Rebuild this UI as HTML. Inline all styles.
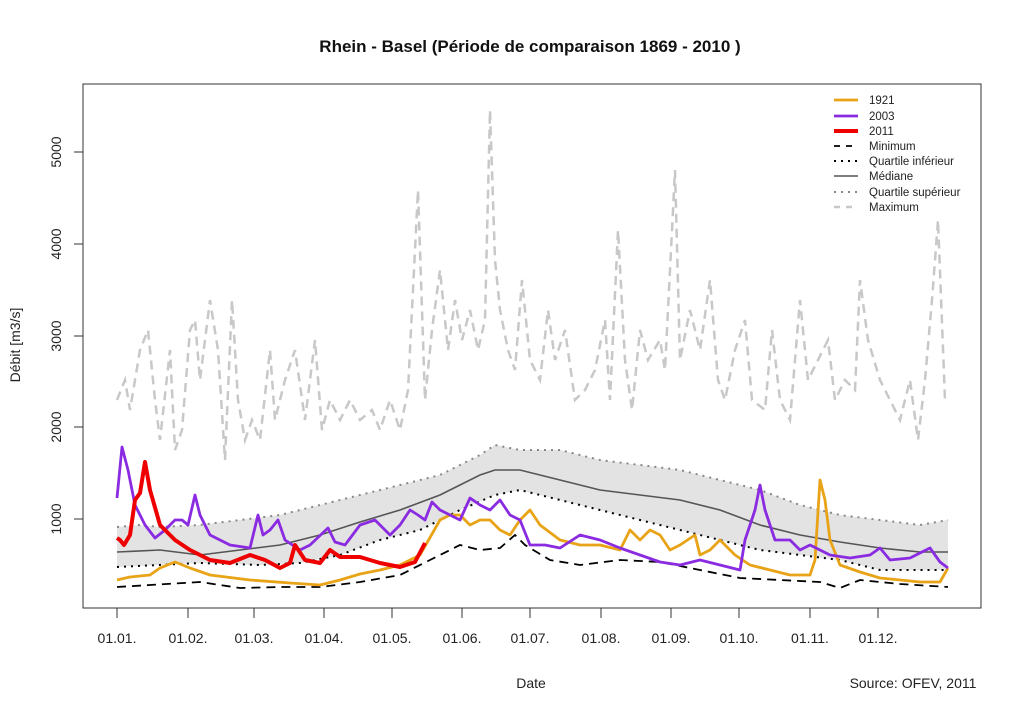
<!DOCTYPE html>
<html><head><meta charset="utf-8"><style>
html,body{margin:0;padding:0;background:#fff;}
svg{display:block;font-family:"Liberation Sans",Arial,sans-serif;}
</style></head><body>
<svg width="1024" height="712" viewBox="0 0 1024 712" xmlns="http://www.w3.org/2000/svg">
<rect width="1024" height="712" fill="#fff"/>
<text x="530" y="52" font-size="17" font-weight="bold" text-anchor="middle" fill="#111">Rhein - Basel (Période de comparaison 1869 - 2010 )</text>
<!-- gray band -->
<polygon fill="#e3e3e3" points="117,527 140,525 160,527 200,525 240,520 280,515 320,505 360,495 400,485 440,475 480,455 495,445 520,450 560,450 600,460 640,465 680,470 720,480 760,490 800,505 840,515 880,520 920,525 948,520 948,570 880,570 840,560 800,555 760,550 720,540 680,530 640,520 600,510 560,500 520,490 495,495 460,510 420,530 380,540 340,555 300,563 260,565 200,563 117,567"/>
<!-- maximum -->
<polyline fill="none" stroke="#c8c8c8" stroke-width="2.5" stroke-dasharray="9,6" points="117,400 125,380 130,410 140,350 148,330 155,400 160,440 170,350 175,450 182,430 190,330 195,320 200,380 210,300 218,350 225,460 232,300 238,400 245,440 252,420 260,440 270,350 275,420 285,380 295,350 305,420 315,340 322,430 330,400 340,420 350,400 360,420 372,410 380,430 390,400 400,430 408,390 418,190 425,400 432,330 440,270 448,350 455,300 462,340 470,310 478,350 485,320 490,110 495,260 500,310 508,350 515,370 522,280 530,360 540,380 548,310 555,360 565,330 575,400 585,390 595,370 605,320 610,400 618,230 625,360 632,410 640,330 648,360 660,340 665,370 675,170 680,360 690,310 700,350 710,280 718,380 725,400 735,350 745,320 752,400 765,410 772,330 780,400 790,420 800,300 808,380 818,360 828,340 835,400 845,380 855,390 860,280 868,340 880,380 890,400 900,420 910,380 918,440 925,380 932,300 938,220 945,400"/>
<!-- quartile sup -->
<polyline fill="none" stroke="#888" stroke-width="2" stroke-dasharray="2,5" points="117,527 140,525 160,527 200,525 240,520 280,515 320,505 360,495 400,485 440,475 480,455 495,445 520,450 560,450 600,460 640,465 680,470 720,480 760,490 800,505 840,515 880,520 920,525 948,520"/>
<!-- median -->
<polyline fill="none" stroke="#555" stroke-width="1.6" points="117,552 160,550 200,555 240,550 280,545 320,535 360,522 400,510 440,495 480,475 495,470 520,470 560,480 600,490 640,495 680,500 720,510 760,525 800,535 840,542 880,548 920,552 948,552"/>
<!-- quartile inf -->
<polyline fill="none" stroke="#000" stroke-width="2" stroke-dasharray="2,5" points="117,567 200,563 260,565 300,563 340,555 380,540 420,530 460,510 495,495 520,490 560,500 600,510 640,520 680,530 720,540 760,550 800,555 840,560 880,570 948,570"/>
<!-- minimum -->
<polyline fill="none" stroke="#000" stroke-width="1.8" stroke-dasharray="9,6" points="117,587 150,585 200,582 240,588 280,587 320,587 360,582 400,575 430,560 460,545 480,550 500,548 515,535 525,545 550,560 580,565 620,560 660,562 700,570 740,578 780,580 820,582 840,588 860,580 900,584 948,587"/>
<!-- 1921 -->
<polyline fill="none" stroke="#e8a317" stroke-width="2.8" stroke-linejoin="round" points="117,580 130,577 150,575 160,568 175,562 190,568 210,575 250,580 290,583 320,585 340,580 360,574 380,570 400,565 420,555 440,520 450,515 460,515 470,525 480,520 490,520 500,530 510,535 520,520 530,510 540,525 560,540 580,545 600,545 620,550 630,530 640,540 650,530 660,535 670,550 680,545 695,535 700,555 710,550 720,540 735,555 750,565 770,570 790,575 810,575 815,560 820,480 825,500 830,540 840,565 860,572 880,578 920,582 940,582 948,568"/>
<!-- 2003 -->
<polyline fill="none" stroke="#8a2be2" stroke-width="2.8" stroke-linejoin="round" points="117,498 122,447 128,470 135,505 145,525 155,538 165,530 175,520 182,520 188,525 195,495 200,515 210,535 230,545 250,548 258,515 263,535 270,530 278,520 285,540 300,550 310,545 328,528 335,542 345,545 360,525 375,520 390,535 400,525 410,510 418,515 425,520 432,502 440,510 450,515 460,520 470,498 480,505 490,510 500,500 510,515 520,520 530,545 545,545 560,548 580,535 600,540 620,548 640,555 660,562 680,565 700,560 720,565 740,570 745,540 755,510 760,485 765,510 775,540 790,540 800,550 810,545 820,550 830,555 850,558 870,555 880,548 890,560 910,558 930,548 940,562 948,568"/>
<!-- 2011 -->
<polyline fill="none" stroke="#e00" stroke-width="4" stroke-linejoin="round" points="117,538 120,540 124,545 130,535 135,500 140,493 145,462 150,490 160,525 175,540 190,550 210,560 230,563 250,555 265,560 280,568 290,563 295,545 305,560 320,563 330,550 340,557 360,557 380,563 400,567 415,562 425,543"/>
<!-- frame -->
<rect x="83" y="84" width="898" height="524" fill="none" stroke="#333" stroke-width="1"/>
<!-- y axis -->
<g stroke="#333" stroke-width="1">
<line x1="83" y1="519" x2="74" y2="519"/><line x1="83" y1="427" x2="74" y2="427"/><line x1="83" y1="336" x2="74" y2="336"/><line x1="83" y1="244" x2="74" y2="244"/><line x1="83" y1="152" x2="74" y2="152"/>
</g>
<g font-size="14" fill="#222" text-anchor="middle">
<text transform="translate(61,519) rotate(-90)">1000</text>
<text transform="translate(61,427) rotate(-90)">2000</text>
<text transform="translate(61,336) rotate(-90)">3000</text>
<text transform="translate(61,244) rotate(-90)">4000</text>
<text transform="translate(61,152) rotate(-90)">5000</text>
<text transform="translate(20,345) rotate(-90)" font-size="14">Débit [m3/s]</text>
</g>
<!-- x axis -->
<g stroke="#333" stroke-width="1">
<line x1="117" y1="608" x2="117" y2="618"/><line x1="188" y1="608" x2="188" y2="618"/><line x1="254" y1="608" x2="254" y2="618"/><line x1="324" y1="608" x2="324" y2="618"/><line x1="392" y1="608" x2="392" y2="618"/><line x1="462" y1="608" x2="462" y2="618"/><line x1="530" y1="608" x2="530" y2="618"/><line x1="601" y1="608" x2="601" y2="618"/><line x1="671" y1="608" x2="671" y2="618"/><line x1="739" y1="608" x2="739" y2="618"/><line x1="810" y1="608" x2="810" y2="618"/><line x1="878" y1="608" x2="878" y2="618"/>
</g>
<g font-size="14" fill="#222" text-anchor="middle">
<text x="117" y="643">01.01.</text><text x="188" y="643">01.02.</text><text x="254" y="643">01.03.</text><text x="324" y="643">01.04.</text><text x="392" y="643">01.05.</text><text x="462" y="643">01.06.</text><text x="530" y="643">01.07.</text><text x="601" y="643">01.08.</text><text x="671" y="643">01.09.</text><text x="739" y="643">01.10.</text><text x="810" y="643">01.11.</text><text x="878" y="643">01.12.</text>
<text x="531" y="688">Date</text>
<text x="913" y="688">Source: OFEV, 2011</text>
</g>
<!-- legend -->
<g font-size="11.5" fill="#222">
<line x1="834" y1="100" x2="858" y2="100" stroke="#e8a317" stroke-width="2.8"/><text x="869" y="104">1921</text>
<line x1="834" y1="116" x2="858" y2="116" stroke="#8a2be2" stroke-width="2.8"/><text x="869" y="120">2003</text>
<line x1="834" y1="131" x2="858" y2="131" stroke="#e00" stroke-width="4"/><text x="869" y="135">2011</text>
<line x1="834" y1="146" x2="858" y2="146" stroke="#000" stroke-width="1.8" stroke-dasharray="6,6"/><text x="869" y="150">Minimum</text>
<line x1="834" y1="161" x2="858" y2="161" stroke="#000" stroke-width="2" stroke-dasharray="2,5"/><text x="869" y="165">Quartile inférieur</text>
<line x1="834" y1="176" x2="858" y2="176" stroke="#555" stroke-width="1.6"/><text x="869" y="180">Médiane</text>
<line x1="834" y1="192" x2="858" y2="192" stroke="#888" stroke-width="2" stroke-dasharray="2,5"/><text x="869" y="196">Quartile supérieur</text>
<line x1="834" y1="207" x2="858" y2="207" stroke="#c8c8c8" stroke-width="2.5" stroke-dasharray="6,6"/><text x="869" y="211">Maximum</text>
</g>
</svg>
</body></html>
